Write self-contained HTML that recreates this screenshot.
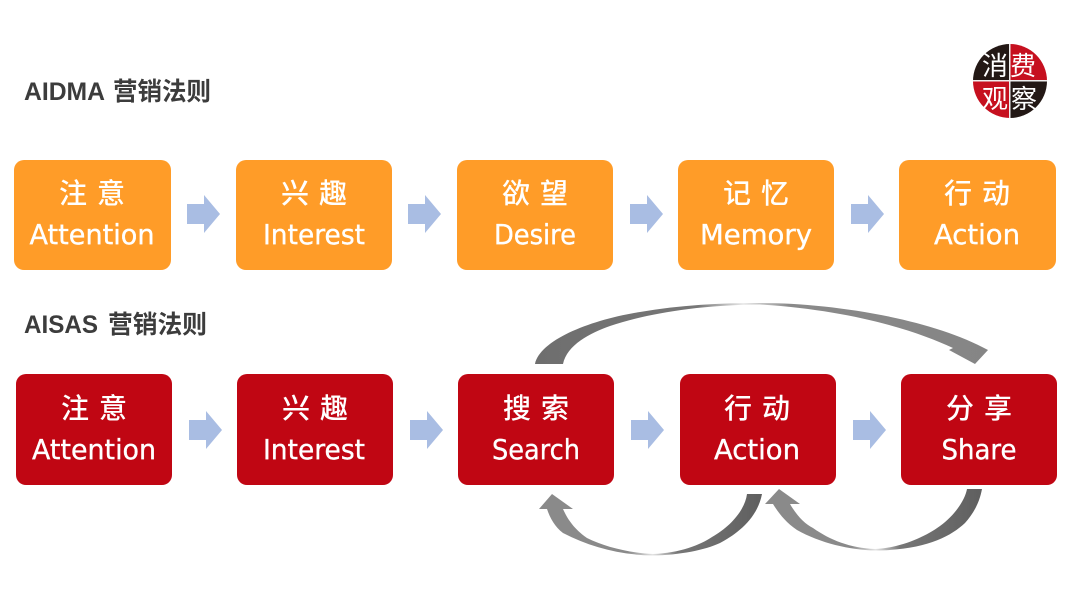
<!DOCTYPE html>
<html><head><meta charset="utf-8">
<style>
html,body{margin:0;padding:0;background:#fff;width:1080px;height:592px;overflow:hidden}
svg{display:block}
text{font-family:"Liberation Sans","Noto Sans CJK SC",sans-serif}
.cn{font-size:28px;fill:#fff;text-anchor:middle;font-family:"Noto Sans CJK SC",sans-serif;font-weight:500}
.en{font-size:28px;fill:#fff;stroke:#fff;stroke-width:.35px;text-anchor:middle;font-family:"DejaVu Sans","Liberation Sans",sans-serif;font-weight:400}
.h{font-size:25px;font-weight:700;fill:#3c3c3c;font-family:"Liberation Sans","Noto Sans CJK SC",sans-serif}
.logo{font-size:26px;fill:#fff;text-anchor:middle;font-family:"Noto Sans CJK SC",sans-serif}
</style></head>
<body>
<svg width="1080" height="592" viewBox="0 0 1080 592" xmlns="http://www.w3.org/2000/svg">
<defs>
<linearGradient id="gt" x1="535" x2="988" y1="0" y2="0" gradientUnits="userSpaceOnUse">
<stop offset="0" stop-color="#6e6e6e"/><stop offset=".36" stop-color="#777"/><stop offset=".46" stop-color="#e8e8e8"/><stop offset=".56" stop-color="#8a8a8a"/><stop offset="1" stop-color="#858585"/>
</linearGradient>
<linearGradient id="gb1" x1="539" x2="762" y1="0" y2="0" gradientUnits="userSpaceOnUse">
<stop offset="0" stop-color="#8a8a8a"/><stop offset=".4" stop-color="#8a8a8a"/><stop offset=".51" stop-color="#e4e4e4"/><stop offset=".62" stop-color="#777"/><stop offset="1" stop-color="#5f5f5f"/>
</linearGradient>
<linearGradient id="gb2" x1="765" x2="982" y1="0" y2="0" gradientUnits="userSpaceOnUse">
<stop offset="0" stop-color="#8a8a8a"/><stop offset=".4" stop-color="#8a8a8a"/><stop offset=".51" stop-color="#e4e4e4"/><stop offset=".62" stop-color="#777"/><stop offset="1" stop-color="#5f5f5f"/>
</linearGradient>
<clipPath id="lc"><circle cx="1010" cy="81" r="37"/></clipPath>
</defs>

<text class="h" x="24" y="100" font-size="24" textLength="81" lengthAdjust="spacingAndGlyphs">AIDMA</text>
<text class="h" x="113" y="100" textLength="98" lengthAdjust="spacingAndGlyphs">营销法则</text>
<text class="h" x="24" y="333" font-size="24" textLength="74" lengthAdjust="spacingAndGlyphs">AISAS</text>
<text class="h" x="108" y="333" textLength="99" lengthAdjust="spacingAndGlyphs">营销法则</text>

<!-- logo -->
<g clip-path="url(#lc)">
<rect x="973" y="44" width="37" height="37" fill="#231815"/>
<rect x="1010" y="44" width="37" height="37" fill="#c6101f"/>
<rect x="973" y="81" width="37" height="37" fill="#c6101f"/>
<rect x="1010" y="81" width="37" height="37" fill="#231815"/>
<rect x="1009" y="44" width="1.5" height="74" fill="#eee"/>
<rect x="973" y="80" width="74" height="1.5" fill="#eee"/>
</g>
<text class="logo" x="995" y="75">消</text>
<text class="logo" x="1023" y="75">费</text>
<text class="logo" x="995" y="108">观</text>
<text class="logo" x="1024" y="108">察</text>

<!-- row 1 -->
<g fill="#ff9c28">
<rect x="14" y="160" width="157" height="110" rx="10"/>
<rect x="236" y="160" width="156" height="110" rx="10"/>
<rect x="457" y="160" width="156" height="110" rx="10"/>
<rect x="678" y="160" width="156" height="110" rx="10"/>
<rect x="899" y="160" width="157" height="110" rx="10"/>
</g>
<text class="cn" x="92" y="203" textLength="66">注 意</text>
<text class="en" x="92" y="244" textLength="125" lengthAdjust="spacingAndGlyphs">Attention</text>
<text class="cn" x="314" y="203" textLength="66">兴 趣</text>
<text class="en" x="314" y="244" textLength="102" lengthAdjust="spacingAndGlyphs">Interest</text>
<text class="cn" x="535" y="203" textLength="66">欲 望</text>
<text class="en" x="535" y="244" textLength="82" lengthAdjust="spacingAndGlyphs">Desire</text>
<text class="cn" x="756" y="203" textLength="66">记 忆</text>
<text class="en" x="756" y="244" textLength="112" lengthAdjust="spacingAndGlyphs">Memory</text>
<text class="cn" x="977" y="203" textLength="66">行 动</text>
<text class="en" x="977" y="244" textLength="86" lengthAdjust="spacingAndGlyphs">Action</text>

<g fill="#a9bde3">
<path d="M187 204h17v-9l16 19-16 19v-9h-17z"/>
<path d="M408 204h17v-9l16 19-16 19v-9h-17z"/>
<path d="M630 204h17v-9l16 19-16 19v-9h-17z"/>
<path d="M851 204h17v-9l16 19-16 19v-9h-17z"/>
<path d="M189 420h17v-9l16 19-16 19v-9h-17z"/>
<path d="M410 420h17v-9l16 19-16 19v-9h-17z"/>
<path d="M631 420h17v-9l16 19-16 19v-9h-17z"/>
<path d="M853 420h17v-9l16 19-16 19v-9h-17z"/>
</g>

<!-- row 2 -->
<g fill="#c00613">
<rect x="16" y="374" width="156" height="111" rx="10"/>
<rect x="237" y="374" width="156" height="111" rx="10"/>
<rect x="458" y="374" width="156" height="111" rx="10"/>
<rect x="680" y="374" width="156" height="111" rx="10"/>
<rect x="901" y="374" width="156" height="111" rx="10"/>
</g>
<text class="cn" x="94" y="418" textLength="66">注 意</text>
<text class="en" x="94" y="459" textLength="124" lengthAdjust="spacingAndGlyphs">Attention</text>
<text class="cn" x="315" y="418" textLength="66">兴 趣</text>
<text class="en" x="314" y="459" textLength="102" lengthAdjust="spacingAndGlyphs">Interest</text>
<text class="cn" x="536" y="418" textLength="66">搜 索</text>
<text class="en" x="536" y="459" textLength="88" lengthAdjust="spacingAndGlyphs">Search</text>
<text class="cn" x="757" y="418" textLength="66">行 动</text>
<text class="en" x="757" y="459" textLength="86" lengthAdjust="spacingAndGlyphs">Action</text>
<text class="cn" x="979" y="418" textLength="66">分 享</text>
<text class="en" x="979" y="459" textLength="75" lengthAdjust="spacingAndGlyphs">Share</text>

<!-- curved arrows -->
<path fill="url(#gt)" d="M535 364C540 340 590 320 640 312C680 305 720 303 760 303C830 303 930 318 988 350L975 364L949 350L953 348C915 330 850 310 760 304.5C690 305 640 316 610 326C590 333 567 345 563 364Z"/>
<path fill="url(#gb1)" d="M762 494C757 520 735 535 720 543C705 550 680 555 653 555.5C620 555 590 547 563 533C555 527 550 518 547 509L539 509L552 494L573 509L563 509C570 525 580 533 587 538C605 547 630 553 653 554C680 553 700 545 712 537C730 527 745 510 747 494Z"/>
<path fill="url(#gb2)" d="M982 489C979 505 972 515 965 523C950 537 925 550 875 550.5C850 550 820 543 797 530C785 522 778 512 773 504L765 504L779 489L800 504L790 504C797 516 805 524 813 528C830 540 850 548 875 549C900 548 925 537 940 526C955 515 965 500 967 489Z"/>
</svg>
</body></html>
